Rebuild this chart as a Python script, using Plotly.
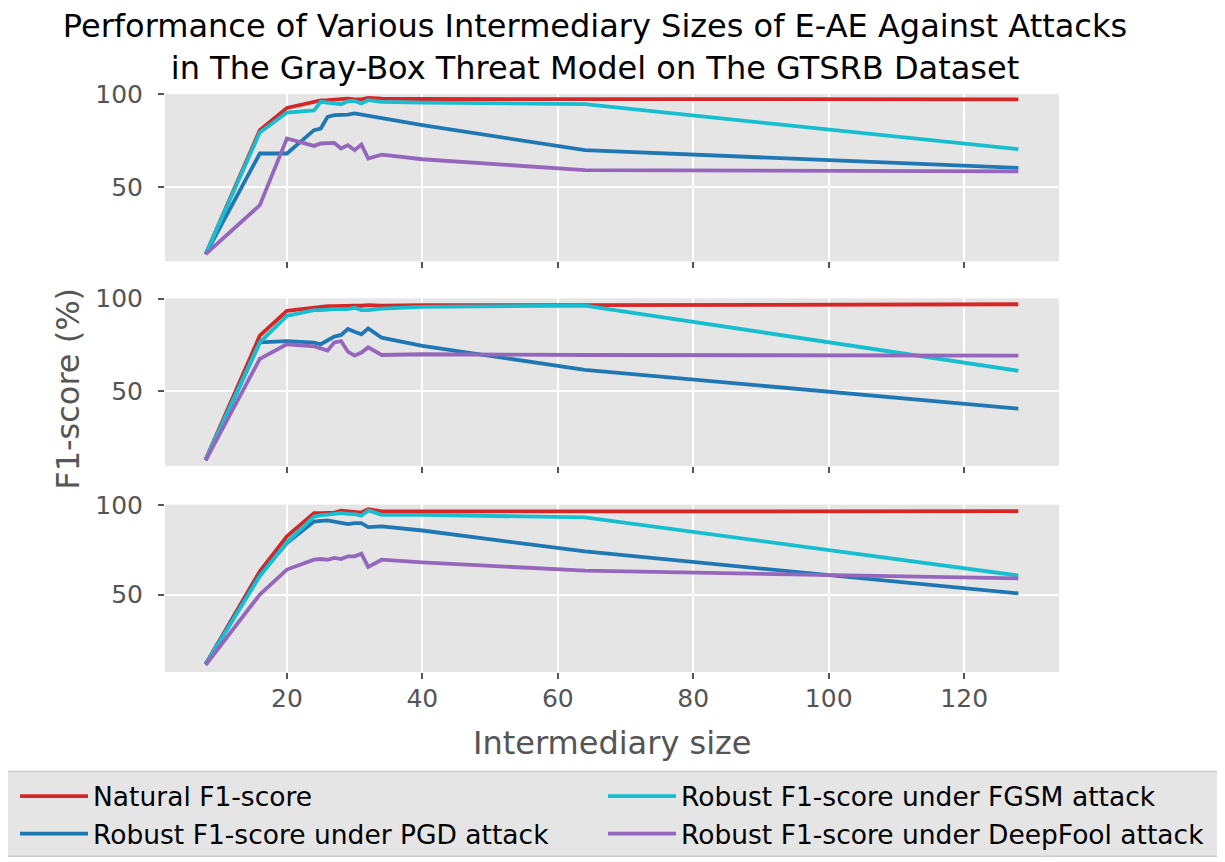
import plotly.graph_objects as go
from plotly.subplots import make_subplots

# ---- data ----
intermediary_size = [8, 16, 20, 24, 25, 26, 27, 28, 29, 30, 31, 32, 34, 40, 64, 128]

natural_top = [13.7, 80.6, 92.6, 96.3, 96.7, 96.8, 97.0, 97.0, 97.6, 97.2, 97.2, 98.0, 97.6, 97.4, 97.3, 97.2]
pgd_top = [13.7, 68.0, 68.0, 80.6, 81.5, 87.8, 88.7, 88.8, 89.0, 89.6, 89.0, 88.1, 87.4, 83.3, 69.8, 60.2]
fgsm_top = [13.7, 79.3, 90.1, 91.3, 95.9, 95.3, 95.0, 94.6, 96.2, 96.4, 95.0, 96.8, 95.9, 95.5, 94.6, 70.3]
deepfool_top = [13.7, 40.1, 76.1, 72.1, 73.4, 73.7, 73.7, 70.7, 72.5, 69.8, 72.8, 65.3, 67.4, 64.9, 59.0, 58.4]

natural_mid = [13.4, 80.0, 93.4, 95.2, 95.5, 95.9, 95.9, 96.1, 95.8, 96.1, 96.1, 96.4, 96.1, 96.4, 96.4, 96.9]
pgd_mid = [12.9, 76.4, 77.1, 76.3, 75.4, 77.7, 79.5, 80.4, 83.6, 82.1, 80.7, 83.9, 78.9, 74.5, 61.6, 40.7]
fgsm_mid = [13.4, 76.4, 90.7, 93.7, 93.7, 94.1, 94.3, 94.3, 94.3, 95.0, 93.7, 93.7, 94.6, 95.5, 96.2, 61.1]
deepfool_mid = [12.9, 67.5, 75.4, 74.3, 73.2, 72.0, 76.4, 77.1, 71.4, 69.3, 70.9, 73.7, 69.6, 70.0, 69.6, 69.3]

natural_bot = [11.1, 63.0, 82.4, 95.4, 95.4, 95.7, 95.7, 96.7, 96.3, 96.1, 95.7, 97.6, 96.3, 96.3, 96.3, 96.5]
pgd_bot = [11.1, 61.0, 78.7, 90.7, 91.1, 91.3, 90.6, 89.8, 89.3, 89.8, 89.8, 87.6, 88.0, 85.7, 74.0, 50.6]
fgsm_bot = [11.1, 60.2, 79.1, 93.5, 94.1, 94.4, 94.8, 95.4, 95.0, 94.8, 93.9, 96.9, 94.4, 94.4, 93.0, 60.6]
deepfool_bot = [10.7, 50.0, 63.9, 69.4, 69.8, 69.4, 70.4, 69.8, 71.3, 71.3, 72.8, 65.4, 69.4, 67.9, 63.3, 59.0]

series_names = ["Natural F1-score", "Robust F1-score under PGD attack",
                "Robust F1-score under FGSM attack", "Robust F1-score under DeepFool attack"]
series_colors = ["#d62728", "#1f77b4", "#17becf", "#9467bd"]
series_legend = ["legend", "legend", "legend2", "legend2"]

panels = [
    [natural_top, pgd_top, fgsm_top, deepfool_top],
    [natural_mid, pgd_mid, fgsm_mid, deepfool_mid],
    [natural_bot, pgd_bot, fgsm_bot, deepfool_bot],
]
y_ranges = [[9.8, 100.1], [9.8, 100.1], [6.8, 100.1]]
x_ticks = [20, 40, 60, 80, 100, 120]
y_ticks = [50, 100]

FONT = "DejaVu Sans"
GRAY = "#555555"
OFF = 8  # page body margin of the browser

W, H = 1225, 862
PL, PR, PT, PB = 165, 1059, 94, 672.5   # plot area in screen pixels
PW, PH = PR - PL, PB - PT

fig = make_subplots(rows=3, cols=1, shared_xaxes=True)

for r, panel in enumerate(panels, start=1):
    for i, ys in enumerate(panel):
        fig.add_trace(go.Scatter(
            x=intermediary_size, y=ys, mode="lines",
            name=series_names[i],
            line=dict(color=series_colors[i], width=3.8),
            showlegend=(r == 1),
            legend=series_legend[i],
        ), row=r, col=1)

domains = [[0.7104, 1.0], [0.3561, 0.6465], [0.0, 0.2895]]
for r in range(1, 4):
    xa = "xaxis" if r == 1 else f"xaxis{r}"
    ya = "yaxis" if r == 1 else f"yaxis{r}"
    fig.layout[xa].update(
        range=[2, 134], tickvals=x_ticks, showticklabels=(r == 3),
        ticks="outside", ticklen=6, tickwidth=1.5, tickcolor=GRAY,
        gridcolor="white", gridwidth=2.2, zeroline=False, showline=False,
        tickfont=dict(family=FONT, size=25, color=GRAY),
        ticklabelstandoff=-2,
    )
    fig.layout[ya].update(
        domain=domains[r - 1], range=y_ranges[r - 1], tickvals=y_ticks,
        ticks="outside", ticklen=6, tickwidth=1.5, tickcolor=GRAY,
        gridcolor="white", gridwidth=2.2, zeroline=False, showline=False,
        tickfont=dict(family=FONT, size=25, color=GRAY),
        ticklabelstandoff=10,
    )

def px_x(x):
    return (x - PL) / PW

def px_y(y):
    return (PB - y) / PH

legend_common = dict(
    orientation="v", xanchor="left", yanchor="top", y=px_y(773),
    bgcolor="rgba(0,0,0,0)", borderwidth=0,
    font=dict(family=FONT, size=26.5, color="black"),
    itemwidth=68, traceorder="normal",
)

fig.update_layout(
    width=W, height=H,
    margin=dict(l=PL - OFF, r=W - (PR - OFF), t=PT - OFF, b=H - (PB - OFF),
                pad=0, autoexpand=False),
    paper_bgcolor="white", plot_bgcolor="#E5E5E5",
    font=dict(family=FONT),
    title=dict(
        text="Performance of Various Intermediary Sizes of E-AE Against Attacks<br>in The Gray-Box Threat Model on The GTSRB Dataset",
        x=(595 - OFF) / W, xanchor="center", xref="container",
        y=0.966, yanchor="top", yref="container",
        font=dict(family=FONT, size=32, color="black"),
    ),
    legend=dict(x=px_x(15), **legend_common),
    legend2=dict(x=px_x(603), **legend_common),
    shapes=[
        dict(type="rect", xref="paper", yref="paper",
             x0=px_x(6), x1=px_x(1218), y0=px_y(857), y1=px_y(772),
             fillcolor="#E5E5E5", line=dict(color="#CCCCCC", width=1.5),
             layer="below"),
    ],
    annotations=[
        dict(text="Intermediary size", xref="paper", yref="paper",
             x=0.5, y=px_y(744), xanchor="center", yanchor="middle",
             showarrow=False, font=dict(family=FONT, size=32, color=GRAY)),
        dict(text="F1-score (%)", xref="paper", yref="paper",
             x=px_x(68), y=px_y(389), xanchor="center", yanchor="middle",
             textangle=-90, showarrow=False,
             font=dict(family=FONT, size=32, color=GRAY)),
    ],
)

fig.write_html("out.html")
